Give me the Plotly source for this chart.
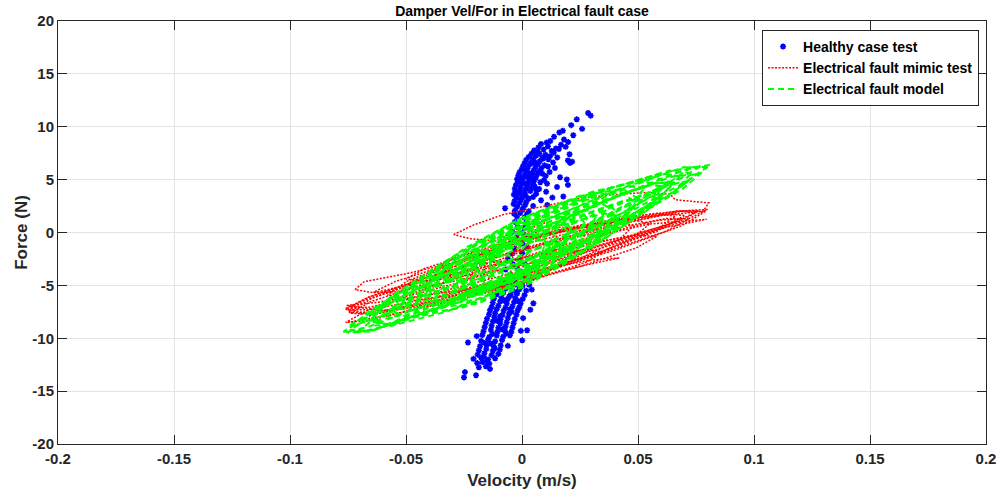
import plotly.graph_objects as go

# ---------------- data ----------------
# Healthy case test: (velocity m/s, force N)
HEALTHY_UPPER = [
    (0.0285, 11.3), (0.0296, 11.05), (0.0236, 10.7), (0.0212, 10.15), (0.0259, 9.8), (0.0161, 9.45),
    (0.0176, 9.62), (0.0138, 9.05), (0.0221, 9.2), (0.0122, 8.65), (0.0181, 8.8), (0.0199, 8.55),
    (0.0082, 8.38), (0.0106, 8.5), (0.0168, 8.3), (0.0071, 8.05), (0.0112, 8.15), (0.0146, 7.95),
    (0.0188, 8.1), (0.0052, 7.75), (0.0093, 7.85), (0.0128, 7.7), (0.0159, 7.9), (0.0041, 7.45),
    (0.0068, 7.6), (0.0101, 7.35), (0.0137, 7.55), (0.0205, 7.4), (0.0029, 7.15), (0.0061, 7.28),
    (0.0088, 7.05), (0.0121, 7.22), (0.0152, 7.1), (0.0018, 6.85), (0.0049, 6.95), (0.0077, 6.75),
    (0.0114, 6.92), (0.0198, 6.82), (0.0011, 6.55), (0.0042, 6.7), (0.0069, 6.48), (0.0134, 6.62),
    (0.0207, 6.58), (0.0216, 6.7), (0.0004, 6.25), (0.0031, 6.38), (0.0058, 6.2), (0.0097, 6.35),
    (-0.0002, 5.95), (0.0024, 6.08), (0.0051, 5.9), (0.0083, 6.05), (0.0142, 6.1), (-0.0011, 5.68),
    (0.0019, 5.8), (0.0044, 5.6), (0.0072, 5.75), (0.0119, 5.72), (-0.0016, 5.38), (0.0012, 5.5),
    (0.0039, 5.3), (0.0064, 5.45), (0.0102, 5.35), (-0.0021, 5.05), (0.0006, 5.18), (0.0032, 5.0),
    (0.0059, 5.15), (0.0164, 5.22), (0.0193, 5.02), (-0.0019, 4.78), (0.0001, 4.9), (0.0026, 4.7),
    (0.0051, 4.85), (0.0079, 4.75), (0.0108, 4.62), (-0.0026, 4.48), (-0.0002, 4.6), (0.0021, 4.4),
    (0.0046, 4.55), (0.0151, 4.3), (0.0198, 4.5), (-0.0031, 4.15), (-0.0006, 4.28), (0.0016, 4.1),
    (0.0041, 4.22), (0.0074, 4.12), (-0.0029, 3.88), (-0.0009, 3.98), (0.0011, 3.8), (0.0036, 3.92),
    (0.0104, 3.85), (-0.0035, 3.58), (-0.0012, 3.7), (0.0015, 3.52), (0.0061, 3.65), (0.0131, 3.3),
    (-0.0023, 3.28), (0.0001, 3.4), (0.0029, 3.22), (0.0178, 3.4), (-0.0032, 2.98), (-0.0004, 3.1),
    (0.0019, 2.92), (0.0082, 3.05), (-0.0036, 2.68), (-0.0011, 2.8), (0.0014, 2.62), (0.0109, 2.6),
    (-0.0073, 2.3), (-0.0021, 2.42), (0.0006, 2.35), (0.0048, 2.5), (-0.0031, 2.05), (0.0002, 2.15),
    (0.0029, 2.0), (-0.0034, 1.78), (-0.0008, 1.85), (0.0021, 1.72), (0.0008, 3.45), (0.0035, 5.55),
    (0.0057, 6.62), (0.0026, 5.25), (0.0088, 5.55), (0.0015, 4.62), (0.0062, 4.0), (0.0095, 4.95),
    (0.0048, 3.35), (0.0112, 6.25), (0.0075, 7.45), (0.0038, 6.55), (0.0012, 6.0), (-0.0008, 5.2),
    (0.0055, 4.35), (0.0092, 7.0),
]
HEALTHY_CENTER = [
    (-0.0022, 1.5), (0.0011, 1.42), (-0.0031, 1.0), (0.0018, 0.95), (-0.0019, 0.5), (0.0012, 0.45),
    (-0.0042, 0.05), (0.0003, -0.05), (-0.0023, -0.48), (0.0021, -0.55), (-0.0049, -1.0),
    (0.0002, -1.05), (-0.0031, -1.5), (0.0019, -1.45), (-0.0042, -2.0), (0.0001, -1.95),
    (-0.0061, -2.5), (-0.0012, -2.55), (-0.0039, -3.0), (0.0012, -2.95), (-0.0071, -3.5),
    (-0.0019, -3.45), (-0.0052, -4.0), (0.0009, -4.05), (-0.0081, -4.5), (-0.0032, -4.45),
    (0.0021, -4.55),
]
HEALTHY_LOWER = [
    (-0.0092, -5.0), (-0.0061, -5.08), (-0.0029, -4.92), (0.0002, -5.05), (0.0031, -4.95),
    (-0.0101, -5.45), (-0.0072, -5.32), (-0.0041, -5.48), (-0.0012, -5.38), (0.0018, -5.5),
    (0.0042, -5.4), (-0.0109, -5.85), (-0.0081, -5.72), (-0.0049, -5.9), (-0.0021, -5.78),
    (0.0011, -5.92), (-0.0121, -6.25), (-0.0089, -6.12), (-0.0062, -6.3), (-0.0029, -6.18),
    (0.0003, -6.28), (-0.0126, -6.65), (-0.0094, -6.52), (-0.0066, -6.7), (-0.0034, -6.58),
    (-0.0006, -6.72), (0.0049, -6.7), (-0.0131, -7.05), (-0.0102, -6.92), (-0.0071, -7.1),
    (-0.0041, -6.98), (-0.0012, -7.08), (-0.0138, -7.35), (-0.0109, -7.25), (-0.0079, -7.4),
    (-0.0052, -7.28), (-0.0019, -7.38), (0.0036, -7.3), (-0.0142, -7.75), (-0.0116, -7.62),
    (-0.0084, -7.8), (-0.0056, -7.68), (-0.0024, -7.78), (-0.0151, -8.15), (-0.0119, -8.02),
    (-0.0092, -8.2), (-0.0061, -8.08), (-0.0031, -8.18), (0.0005, -8.1), (-0.0156, -8.55),
    (-0.0126, -8.42), (-0.0094, -8.6), (-0.0066, -8.48), (-0.0036, -8.58), (-0.0161, -8.95),
    (-0.0131, -8.82), (-0.0102, -9.0), (-0.0071, -8.88), (-0.0041, -8.98), (-0.0166, -9.35),
    (-0.0134, -9.22), (-0.0106, -9.4), (-0.0074, -9.28), (-0.0046, -9.38), (-0.0005, -9.3),
    (0.0022, -9.25), (-0.0195, -9.8), (-0.0171, -9.7), (-0.0141, -9.88), (-0.0109, -9.75),
    (-0.0081, -9.85), (-0.0052, -9.72), (-0.0176, -10.25), (-0.0146, -10.12), (-0.0116, -10.3),
    (-0.0086, -10.18), (0.0001, -10.2), (-0.0233, -10.4), (-0.0161, -10.45), (-0.0181, -10.75),
    (-0.0152, -10.62), (-0.0121, -10.8), (-0.0092, -10.68), (-0.0061, -10.72), (-0.0186, -11.15),
    (-0.0154, -11.02), (-0.0126, -11.2), (-0.0096, -11.08), (-0.0191, -11.55), (-0.0162, -11.42),
    (-0.0131, -11.6), (-0.0102, -11.48), (-0.0209, -11.95), (-0.0176, -11.85), (-0.0146, -12.0),
    (-0.0116, -11.9), (-0.0193, -12.35), (-0.0171, -12.25), (-0.0141, -12.4), (-0.0186, -12.75),
    (-0.0156, -12.65), (-0.0138, -12.9), (-0.0246, -13.2), (-0.0198, -13.5), (-0.0250, -13.7),
    (-0.0078, -6.4), (-0.0045, -7.5), (-0.0108, -8.35), (-0.0085, -9.15), (-0.0128, -9.6),
    (-0.0135, -10.5), (-0.0055, -6.05), (-0.0015, -6.5), (-0.0095, -7.95), (-0.0118, -10.95),
    (-0.0165, -11.75), (-0.0152, -12.15), (-0.0068, -9.55), (-0.0025, -5.65), (-0.0088, -5.55),
]

# Electrical fault mimic test: red dotted loops, (velocity, force) pairs
RED_TOP = [(-0.0295, -0.2), (-0.021, 0.7), (-0.008, 1.7), (0.010, 2.5), (0.024, 3.2), (0.040, 3.6),
           (0.055, 3.8), (0.064, 3.6), (0.066, 3.1), (0.0805, 2.8), (0.078, 2.0), (0.068, 1.8),
           (0.050, 1.4), (0.030, 0.6), (0.010, -0.2), (-0.010, -0.8), (-0.022, -0.6), (-0.0295, -0.2)]
RED_UPLEFT = [(-0.072, -5.4), (-0.068, -4.65), (-0.050, -3.9), (-0.030, -2.9), (-0.018, -1.9),
              (0.000, -0.9), (0.020, 0.2), (0.035, 0.9), (0.030, 0.2), (0.010, -1.0), (-0.010, -2.6),
              (-0.030, -4.0), (-0.050, -5.0), (-0.064, -5.7), (-0.072, -5.4)]
RED_LOW = [(-0.0753, -8.5), (-0.055, -7.7), (-0.030, -6.5), (-0.010, -5.4), (0.010, -4.0), (0.025, -3.2),
           (0.042, -2.4), (0.030, -2.6), (0.010, -3.4), (-0.010, -4.6), (-0.030, -5.8), (-0.050, -7.0),
           (-0.066, -7.9)]
RED_RIGHT = [(-0.0756, -6.9), (-0.062, -6.6), (-0.045, -5.8), (-0.025, -4.6), (-0.005, -3.2),
             (0.015, -1.6), (0.035, -0.2), (0.055, 0.8), (0.0796, 1.25), (0.060, 0.4), (0.040, -0.8),
             (0.020, -2.2), (0.000, -3.8), (-0.020, -5.4), (-0.040, -6.6), (-0.060, -7.4), (-0.0756, -6.9)]
RED_A = [(0.080, 2.18), (0.0695, 2.05), (0.041, 0.71), (0.002, -1.5), (-0.037, -3.97), (-0.0655, -6.05),
         (-0.076, -7.18), (-0.0655, -7.05), (-0.037, -5.71), (0.002, -3.5), (0.041, -1.03), (0.0695, 1.05),
         (0.080, 2.18)]
RED_B = [(0.079, 1.97), (0.0687, 2.03), (0.0405, 0.80), (0.002, -1.4), (-0.0365, -3.98), (-0.0647, -6.23),
         (-0.075, -7.57), (-0.0647, -7.63), (-0.0365, -6.40), (0.002, -4.2), (0.0405, -1.63),
         (0.0687, 0.63), (0.079, 1.97)]
RED_C = [(0.072, 1.29), (0.0621, 1.32), (0.035, 0.19), (-0.002, -1.8), (-0.039, -4.11), (-0.0661, -6.12),
         (-0.076, -7.29), (-0.0661, -7.32), (-0.039, -6.19), (-0.002, -4.2), (0.035, -1.89),
         (0.0621, 0.12), (0.072, 1.29)]
RED_D = [(0.066, 1.52), (0.0577, 1.82), (0.035, 1.05), (0.004, -0.6), (-0.027, -2.67), (-0.0497, -4.62),
         (-0.058, -5.92), (-0.0497, -6.22), (-0.027, -5.45), (0.004, -3.8), (0.035, -1.73),
         (0.0577, 0.22), (0.066, 1.52)]
RED_E = [(0.055, 0.81), (0.0476, 1.25), (0.0275, 0.66), (0.000, -0.8), (-0.0275, -2.75), (-0.0476, -4.65),
         (-0.055, -6.01), (-0.0476, -6.45), (-0.0275, -5.86), (0.000, -4.4), (0.0275, -2.45),
         (0.0476, -0.55), (0.055, 0.81)]
RED_F = [(0.048, 0.63), (0.042, 1.13), (0.0255, 0.72), (0.003, -0.5), (-0.0195, -2.2), (-0.036, -3.93),
         (-0.042, -5.23), (-0.036, -5.73), (-0.0195, -5.32), (0.003, -4.1), (0.0255, -2.4),
         (0.042, -0.67), (0.048, 0.63)]
RED_G = [(0.035, -0.15), (0.0303, 0.52), (0.0175, 0.36), (0.000, -0.6), (-0.0175, -2.09), (-0.0303, -3.72),
         (-0.035, -5.05), (-0.0303, -5.72), (-0.0175, -5.56), (0.000, -4.6), (0.0175, -3.11),
         (0.0303, -1.48), (0.035, -0.15)]
RED_H = [(0.027, -0.4), (0.0237, 0.43), (0.0145, 0.51), (0.002, -0.2), (-0.0105, -1.5), (-0.0197, -3.03),
         (-0.023, -4.4), (-0.0197, -5.23), (-0.0105, -5.31), (0.002, -4.6), (0.0145, -3.31),
         (0.0237, -1.77), (0.027, -0.4)]
RED_I = [(0.015, -1.0), (0.013, 0.0), (0.0075, 0.33), (0.000, -0.1), (-0.0075, -1.17), (-0.013, -2.6),
         (-0.015, -4.0), (-0.013, -5.0), (-0.0075, -5.33), (0.000, -4.9), (0.0075, -3.83),
         (0.013, -2.4), (0.015, -1.0)]
RED_J = [(0.068, 1.3), (0.0584, 1.14), (0.032, -0.28), (-0.004, -2.6), (-0.040, -5.18), (-0.0664, -7.34),
         (-0.076, -8.5), (-0.0664, -8.34), (-0.040, -6.92), (-0.004, -4.6), (0.032, -2.02),
         (0.0584, 0.14), (0.068, 1.3)]
RED_K = [(0.076, 2.05), (0.0666, 2.03), (0.041, 0.99), (0.006, -0.8), (-0.029, -2.86), (-0.0546, -4.63),
         (-0.064, -5.65), (-0.0546, -5.63), (-0.029, -4.59), (0.006, -2.8), (0.041, -0.74),
         (0.0666, 1.03), (0.076, 2.05)]
RED_L = [(0.070, 1.6), (0.062, 1.8), (0.040, 1.14), (0.010, -0.2), (-0.020, -1.86), (-0.042, -3.4),
         (-0.050, -4.4), (-0.042, -4.6), (-0.020, -3.94), (0.010, -2.6), (0.040, -0.94),
         (0.062, 0.6), (0.070, 1.6)]
RED_M = [(0.058, -0.37), (0.0492, -0.26), (0.025, -1.15), (-0.008, -2.8), (-0.041, -4.78),
         (-0.0652, -6.54), (-0.074, -7.63), (-0.0652, -7.74), (-0.041, -6.85), (-0.008, -5.2),
         (0.025, -3.22), (0.0492, -1.46), (0.058, -0.37)]
RED_N = [(0.075, 1.88), (0.0676, 2.04), (0.0475, 1.5), (0.020, 0.4), (-0.0075, -0.97), (-0.0276, -2.24),
         (-0.035, -3.08), (-0.0276, -3.24), (-0.0075, -2.7), (0.020, -1.6), (0.0475, -0.23),
         (0.0676, 1.04), (0.075, 1.88)]
RED_O = [(0.035, -1.85), (0.0276, -1.62), (0.0075, -2.19), (-0.020, -3.4), (-0.0475, -4.94),
         (-0.0676, -6.38), (-0.075, -7.35), (-0.0676, -7.58), (-0.0475, -7.01), (-0.020, -5.8),
         (0.0075, -4.26), (0.0276, -2.82), (0.035, -1.85)]
RED_P = [(0.015, -0.5), (0.0137, 0.55), (0.010, 0.92), (0.005, 0.5), (0.000, -0.59), (-0.0037, -2.05),
         (-0.005, -3.5), (-0.0037, -4.55), (0.000, -4.92), (0.005, -4.5), (0.010, -3.42),
         (0.0137, -1.95), (0.015, -0.5)]
RED_Q = [(0.003, -1.3), (0.0017, -0.25), (-0.002, 0.12), (-0.007, -0.3), (-0.012, -1.39), (-0.0157, -2.85),
         (-0.017, -4.3), (-0.0157, -5.35), (-0.012, -5.72), (-0.007, -5.3), (-0.002, -4.22),
         (0.0017, -2.75), (0.003, -1.3)]

# Electrical fault model: green dashed loops, (velocity, force) pairs
GREEN_A = [(0.081, 6.4), (0.0704, 5.94), (0.0415, 3.49), (0.002, -0.3), (-0.0375, -4.41), (-0.0664, -7.74),
           (-0.077, -9.4), (-0.0664, -8.94), (-0.0375, -6.49), (0.002, -2.7), (0.0415, 1.41),
           (0.0704, 4.74), (0.081, 6.4)]
GREEN_B = [(0.080, 6.2), (0.0695, 6.16), (0.041, 4.03), (0.002, 0.4), (-0.037, -3.77), (-0.0655, -7.36),
           (-0.076, -9.4), (-0.0655, -9.36), (-0.037, -7.23), (0.002, -3.6), (0.041, 0.57),
           (0.0695, 4.16), (0.080, 6.2)]
GREEN_C = [(0.073, 5.6), (0.0636, 5.86), (0.038, 4.18), (0.003, 1.0), (-0.032, -2.82), (-0.0576, -6.26),
           (-0.067, -8.4), (-0.0576, -8.66), (-0.032, -6.98), (0.003, -3.8), (0.038, 0.02),
           (0.0636, 3.46), (0.073, 5.6)]
GREEN_D = [(0.065, 4.7), (0.0563, 5.23), (0.0325, 3.88), (0.000, 1.0), (-0.0325, -2.63), (-0.0563, -6.03),
           (-0.065, -8.3), (-0.0563, -8.83), (-0.0325, -7.48), (0.000, -4.6), (0.0325, -0.98),
           (0.0563, 2.43), (0.065, 4.7)]
GREEN_E = [(0.060, 4.2), (0.0522, 4.92), (0.031, 3.9), (0.002, 1.4), (-0.027, -1.9), (-0.0482, -5.12),
           (-0.056, -7.4), (-0.0482, -8.12), (-0.027, -7.1), (0.002, -4.6), (0.031, -1.3),
           (0.0522, 1.92), (0.060, 4.2)]
GREEN_F = [(0.050, 3.2), (0.0433, 4.13), (0.025, 3.47), (0.000, 1.4), (-0.025, -1.53), (-0.0433, -4.53),
           (-0.050, -6.8), (-0.0433, -7.73), (-0.025, -7.07), (0.000, -5.0), (0.025, -2.07),
           (0.0433, 0.93), (0.050, 3.2)]
GREEN_G = [(0.048, 3.0), (0.042, 3.9), (0.0255, 3.35), (0.003, 1.5), (-0.0195, -1.15), (-0.036, -3.9),
           (-0.042, -6.0), (-0.036, -6.9), (-0.0195, -6.35), (0.003, -4.5), (0.0255, -1.85),
           (0.042, 0.9), (0.048, 3.0)]
GREEN_H = [(0.040, 2.1), (0.0346, 3.21), (0.020, 2.96), (0.000, 1.4), (-0.020, -1.04), (-0.0346, -3.71),
           (-0.040, -5.9), (-0.0346, -7.01), (-0.020, -6.76), (0.000, -5.2), (0.020, -2.76),
           (0.0346, -0.09), (0.040, 2.1)]
GREEN_I = [(0.035, 1.7), (0.0306, 2.76), (0.0185, 2.65), (0.002, 1.4), (-0.0145, -0.65), (-0.0266, -2.96),
           (-0.031, -4.9), (-0.0266, -5.96), (-0.0145, -5.85), (0.002, -4.6), (0.0185, -2.55),
           (0.0306, -0.24), (0.035, 1.7)]
GREEN_J = [(0.027, 0.9), (0.0234, 1.94), (0.0135, 1.98), (0.000, 1.0), (-0.0135, -0.73), (-0.0234, -2.74),
           (-0.027, -4.5), (-0.0234, -5.54), (-0.0135, -5.58), (0.000, -4.6), (0.0135, -2.88),
           (0.0234, -0.86), (0.027, 0.9)]
GREEN_K = [(0.021, 0.3), (0.0183, 1.33), (0.011, 1.55), (0.001, 0.9), (-0.009, -0.45), (-0.0163, -2.13),
           (-0.019, -3.7), (-0.0163, -4.73), (-0.009, -4.95), (0.001, -4.3), (0.011, -2.95),
           (0.0183, -1.27), (0.021, 0.3)]
GREEN_L = [(0.014, -0.4), (0.0121, 0.61), (0.007, 0.98), (0.000, 0.6), (-0.007, -0.42), (-0.0121, -1.81),
           (-0.014, -3.2), (-0.0121, -4.21), (-0.007, -4.58), (0.000, -4.2), (0.007, -3.18),
           (0.0121, -1.79), (0.014, -0.4)]
GREEN_M = [(0.066, 4.7), (0.0566, 4.66), (0.031, 2.76), (-0.004, -0.5), (-0.039, -4.24), (-0.0646, -7.46),
           (-0.074, -9.3), (-0.0646, -9.26), (-0.039, -7.36), (-0.004, -4.1), (0.031, -0.36),
           (0.0566, 2.86), (0.066, 4.7)]
GREEN_N = [(0.068, 5.3), (0.0597, 5.57), (0.037, 4.11), (0.006, 1.3), (-0.025, -2.1), (-0.0477, -5.17),
           (-0.056, -7.1), (-0.0477, -7.37), (-0.025, -5.91), (0.006, -3.1), (0.037, 0.3),
           (0.0597, 3.37), (0.068, 5.3)]
GREEN_O = [(0.075, 5.5), (0.065, 5.3), (0.0375, 3.14), (0.000, -0.4), (-0.0375, -4.36), (-0.065, -7.7),
           (-0.075, -9.5), (-0.065, -9.3), (-0.0375, -7.14), (0.000, -3.6), (0.0375, 0.36),
           (0.065, 3.7), (0.075, 5.5)]
GREEN_P = [(0.064, 4.8), (0.056, 4.6), (0.034, 2.84), (0.004, 0.0), (-0.026, -3.16), (-0.048, -5.8),
           (-0.056, -7.2), (-0.048, -7.0), (-0.026, -5.24), (0.004, -2.4), (0.034, 0.76),
           (0.056, 3.4), (0.064, 4.8)]
GREEN_Q = [(0.052, 3.1), (0.0446, 3.06), (0.0245, 1.56), (-0.003, -1.0), (-0.0305, -3.94), (-0.0506, -6.46),
           (-0.058, -7.9), (-0.0506, -7.86), (-0.0305, -6.36), (-0.003, -3.8), (0.0245, -0.86),
           (0.0446, 1.66), (0.052, 3.1)]
GREEN_R = [(0.032, 1.5), (0.028, 2.1), (0.017, 1.73), (0.002, 0.5), (-0.013, -1.27), (-0.024, -3.1),
           (-0.028, -4.5), (-0.024, -5.1), (-0.013, -4.73), (0.002, -3.5), (0.017, -1.73),
           (0.028, 0.1), (0.032, 1.5)]
GREEN_S = [(0.020, 0.0), (0.0171, 0.71), (0.009, 0.63), (-0.002, -0.2), (-0.013, -1.57), (-0.0211, -3.1),
           (-0.024, -4.4), (-0.0211, -5.1), (-0.013, -5.03), (-0.002, -4.2), (0.009, -2.83),
           (0.0171, -1.3), (0.020, 0.0)]
GREEN_T = [(0.022, 0.8), (0.0196, 1.46), (0.013, 1.46), (0.004, 0.8), (-0.005, -0.34), (-0.0116, -1.66),
           (-0.014, -2.8), (-0.0116, -3.46), (-0.005, -3.46), (0.004, -2.8), (0.013, -1.66),
           (0.0196, -0.34), (0.022, 0.8)]
GREEN_U = [(0.014, -1.0), (0.0116, -0.34), (0.005, -0.34), (-0.004, -1.0), (-0.013, -2.14), (-0.0196, -3.46),
           (-0.022, -4.6), (-0.0196, -5.26), (-0.013, -5.26), (-0.004, -4.6), (0.005, -3.46),
           (0.0116, -2.14), (0.014, -1.0)]
GREEN_V = [(0.028, 1.4), (0.0253, 1.93), (0.018, 1.79), (0.008, 1.0), (-0.002, -0.21), (-0.0093, -1.53),
           (-0.012, -2.6), (-0.0093, -3.13), (-0.002, -2.99), (0.008, -2.2), (0.018, -0.99),
           (0.0253, 0.33), (0.028, 1.4)]
GREEN_W = [(0.012, -1.2), (0.0093, -0.67), (0.002, -0.81), (-0.008, -1.6), (-0.018, -2.81), (-0.0253, -4.13),
           (-0.028, -5.2), (-0.0253, -5.73), (-0.018, -5.59), (-0.008, -4.8), (0.002, -3.59),
           (0.0093, -2.27), (0.012, -1.2)]
GREEN_X = [(0.010, -0.7), (0.0087, 0.47), (0.005, 1.05), (0.000, 0.9), (-0.005, 0.05), (-0.0087, -1.27),
           (-0.010, -2.7), (-0.0087, -3.87), (-0.005, -4.45), (0.000, -4.3), (0.005, -3.45),
           (0.0087, -2.13), (0.010, -0.7)]
GREEN_Y = [(0.037, 2.4), (0.0337, 2.82), (0.0245, 2.45), (0.012, 1.4), (-0.0005, -0.05), (-0.0097, -1.52),
           (-0.013, -2.6), (-0.0097, -3.02), (-0.0005, -2.65), (0.012, -1.6), (0.0245, -0.15),
           (0.0337, 1.32), (0.037, 2.4)]
GREEN_Z = [(0.013, -1.1), (0.0097, -0.69), (0.0005, -1.05), (-0.012, -2.1), (-0.0245, -3.55),
           (-0.0337, -5.02), (-0.037, -6.1), (-0.0337, -6.52), (-0.0245, -6.15), (-0.012, -5.1),
           (0.0005, -3.65), (0.0097, -2.19), (0.013, -1.1)]
GREEN_RIGHT = [(0.060, 4.4), (0.056, 4.5), (0.045, 3.77), (0.030, 2.4), (0.015, 0.77), (0.004, -0.7),
               (0.000, -1.6), (0.004, -1.7), (0.015, -0.97), (0.030, 0.4), (0.045, 2.03),
               (0.056, 3.5), (0.060, 4.4)]
GREEN_LEFT = [(-0.005, -2.2), (-0.009, -2.1), (-0.020, -2.83), (-0.035, -4.2), (-0.050, -5.83),
              (-0.061, -7.3), (-0.065, -8.2), (-0.061, -8.3), (-0.050, -7.57), (-0.035, -6.2),
              (-0.020, -4.57), (-0.009, -3.1), (-0.005, -2.2)]
GREEN_AC = [(0.077, 6.3), (0.0668, 5.68), (0.039, 3.19), (0.001, -0.5), (-0.037, -4.41), (-0.0648, -7.48),
            (-0.075, -8.9), (-0.0648, -8.28), (-0.037, -5.79), (0.001, -2.1), (0.039, 1.81),
            (0.0668, 4.88), (0.077, 6.3)]
GREEN_AD = [(0.072, 4.9), (0.0624, 4.44), (0.036, 2.17), (0.000, -1.3), (-0.036, -5.03), (-0.0624, -8.04),
            (-0.072, -9.5), (-0.0624, -9.04), (-0.036, -6.77), (0.000, -3.3), (0.036, 0.43),
            (0.0624, 3.44), (0.072, 4.9)]
GREEN_AE = [(0.073, 6.2), (0.0636, 5.76), (0.038, 3.57), (0.003, 0.2), (-0.032, -3.43), (-0.0576, -6.36),
            (-0.067, -7.8), (-0.0576, -7.36), (-0.032, -5.17), (0.003, -1.8), (0.038, 1.83),
            (0.0636, 4.76), (0.073, 6.2)]
GREEN_AF = [(0.060, 3.6), (0.0517, 3.52), (0.029, 1.8), (-0.002, -1.1), (-0.033, -4.4), (-0.0557, -7.22),
            (-0.064, -8.8), (-0.0557, -8.72), (-0.033, -7.0), (-0.002, -4.1), (0.029, -0.8),
            (0.0517, 2.02), (0.060, 3.6)]
GREEN_AG = [(0.053, 4.2), (0.0466, 4.36), (0.029, 3.19), (0.005, 1.0), (-0.019, -1.61), (-0.0366, -3.96),
            (-0.043, -5.4), (-0.0366, -5.56), (-0.019, -4.39), (0.005, -2.2), (0.029, 0.41),
            (0.0466, 2.76), (0.053, 4.2)]
GREEN_AH = [(0.041, 1.6), (0.035, 1.8), (0.0185, 0.74), (-0.004, -1.3), (-0.0265, -3.76), (-0.043, -6.0),
            (-0.049, -7.4), (-0.043, -7.6), (-0.0265, -6.54), (-0.004, -4.5), (0.0185, -2.04),
            (0.035, 0.2), (0.041, 1.6)]

x_ticks = [-0.2, -0.15, -0.1, -0.05, 0, 0.05, 0.1, 0.15, 0.2]
x_tick_labels = ["-0.2", "-0.15", "-0.1", "-0.05", "0", "0.05", "0.1", "0.15", "0.2"]
y_ticks = [-20, -15, -10, -5, 0, 5, 10, 15, 20]
y_tick_labels = ["-20", "-15", "-10", "-5", "0", "5", "10", "15", "20"]


def join_loops(loops):
    xs, ys = [], []
    for lp in loops:
        for v, f in lp:
            xs.append(v)
            ys.append(f)
        xs.append(None)
        ys.append(None)
    return xs, ys


healthy_pts = HEALTHY_UPPER + HEALTHY_CENTER + HEALTHY_LOWER
healthy_v = [p[0] for p in healthy_pts]
healthy_f = [p[1] for p in healthy_pts]

red_x, red_y = join_loops([RED_TOP, RED_UPLEFT, RED_LOW, RED_RIGHT, RED_A, RED_B, RED_C, RED_D,
                           RED_E, RED_F, RED_G, RED_H, RED_I, RED_J, RED_K, RED_L, RED_M, RED_N,
                           RED_O, RED_P, RED_Q])
green_x, green_y = join_loops([GREEN_A, GREEN_B, GREEN_C, GREEN_D, GREEN_E, GREEN_F, GREEN_G,
                               GREEN_H, GREEN_I, GREEN_J, GREEN_K, GREEN_L, GREEN_M, GREEN_N,
                               GREEN_O, GREEN_P, GREEN_Q, GREEN_R, GREEN_S, GREEN_T, GREEN_U,
                               GREEN_V, GREEN_W, GREEN_X, GREEN_Y, GREEN_Z, GREEN_RIGHT, GREEN_LEFT,
                               GREEN_AC, GREEN_AD, GREEN_AE, GREEN_AF, GREEN_AG, GREEN_AH])

FONT = "Liberation Sans, Arial, Helvetica, sans-serif"
AX = "#262626"

fig = go.Figure()
fig.add_trace(go.Scatter(
    x=healthy_v, y=healthy_f, mode="markers", name="Healthy case test",
    marker=dict(symbol="asterisk-open", size=5, color="#0000ff",
                line=dict(color="#0000ff", width=1.6)),
))
fig.add_trace(go.Scatter(
    x=red_x, y=red_y, mode="lines", name="Electrical fault mimic test",
    line=dict(color="#ff0000", width=1.5, dash="2px,1.5px"), connectgaps=False,
))
fig.add_trace(go.Scatter(
    x=green_x, y=green_y, mode="lines", name="Electrical fault model",
    line=dict(color="#00ff00", width=2.0, dash="6px,4px"), connectgaps=False,
))

axis_common = dict(
    showgrid=True, gridcolor="#e3e3e3", gridwidth=1,
    showline=True, linecolor=AX, linewidth=1, mirror="ticks",
    ticks="inside", ticklen=9, tickcolor=AX, tickwidth=1,
    zeroline=False, automargin=False,
    tickfont=dict(family=FONT, size=15, color=AX, weight="bold"),
)

fig.update_xaxes(
    range=[-0.2, 0.2], tickmode="array", tickvals=x_ticks, ticktext=x_tick_labels,
    ticklabelstandoff=1,
    title=dict(text="Velocity (m/s)", font=dict(family=FONT, size=17, color=AX, weight="bold"),
               standoff=8),
    **axis_common,
)
fig.update_yaxes(
    range=[-20, 20], tickmode="array", tickvals=y_ticks, ticktext=y_tick_labels,
    title=dict(text="Force (N)", font=dict(family=FONT, size=17, color=AX, weight="bold"),
               standoff=0),
    **axis_common,
)

fig.update_layout(
    width=1000, height=497,
    margin=dict(l=58, r=14, t=21, b=53),
    paper_bgcolor="white", plot_bgcolor="white",
    title=dict(text="Damper Vel/For in Electrical fault case", x=0.522, xanchor="center",
               y=0.978, yanchor="middle", yref="container",
               font=dict(family=FONT, size=14, color="#000000", weight="bold")),
    legend=dict(x=0.9925, y=0.979, xanchor="right", yanchor="top",
                bgcolor="white", bordercolor=AX, borderwidth=1,
                font=dict(family=FONT, size=14, color="#000000", weight="bold"),
                tracegroupgap=0, itemwidth=30),
    showlegend=True,
)

fig.write_html("out.html")
